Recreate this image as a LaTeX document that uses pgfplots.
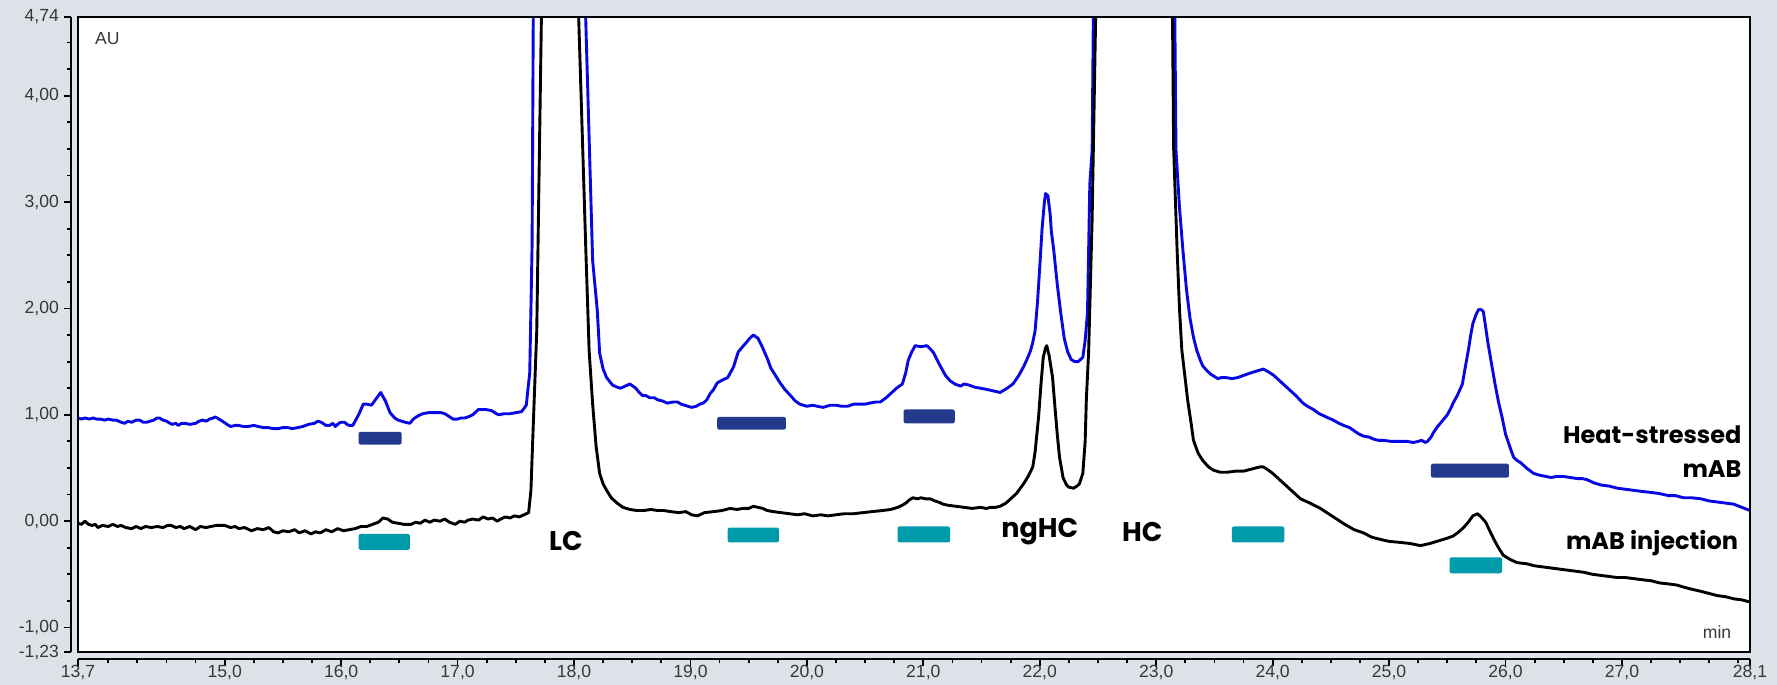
\documentclass[border=0pt]{standalone}
\usepackage{pgfplots}
\pgfplotsset{compat=1.18}
\usepackage{fontspec}
\setmainfont{Liberation Sans}
\newfontfamily\labfont{Poppins}
\definecolor{bgc}{RGB}{220,226,232}
\definecolor{trblue}{RGB}{8,8,228}
\definecolor{barblue}{RGB}{35,58,140}
\definecolor{barteal}{RGB}{0,155,170}
\definecolor{txtgrey}{RGB}{55,55,55}
\pgfplotstableread{
x y
13.74 0.97
13.77 0.96
13.80 0.97
13.84 0.96
13.87 0.97
13.90 0.96
13.93 0.96
13.97 0.95
14.00 0.96
14.04 0.95
14.07 0.95
14.11 0.93
14.14 0.92
14.17 0.94
14.20 0.93
14.24 0.95
14.27 0.95
14.30 0.93
14.33 0.93
14.36 0.94
14.39 0.95
14.42 0.97
14.44 0.97
14.47 0.95
14.50 0.94
14.53 0.92
14.55 0.91
14.58 0.92
14.60 0.90
14.63 0.92
14.66 0.92
14.70 0.91
14.75 0.92
14.78 0.94
14.81 0.95
14.84 0.94
14.87 0.96
14.90 0.97
14.92 0.98
14.95 0.96
14.98 0.94
15.02 0.91
15.05 0.89
15.09 0.90
15.12 0.90
15.16 0.89
15.20 0.89
15.25 0.90
15.29 0.89
15.33 0.88
15.37 0.88
15.42 0.87
15.46 0.87
15.50 0.88
15.54 0.88
15.58 0.87
15.63 0.88
15.67 0.89
15.72 0.91
15.77 0.92
15.80 0.94
15.83 0.93
15.87 0.90
15.90 0.90
15.93 0.92
15.95 0.89
15.98 0.92
16.00 0.93
16.03 0.93
16.05 0.91
16.07 0.90
16.10 0.90
16.13 0.96
16.15 1.00
16.19 1.10
16.22 1.10
16.26 1.09
16.30 1.15
16.34 1.21
16.38 1.13
16.42 1.02
16.46 0.97
16.49 0.95
16.52 0.94
16.55 0.93
16.59 0.92
16.62 0.96
16.66 0.99
16.70 1.01
16.75 1.02
16.80 1.02
16.86 1.02
16.89 1.01
16.92 0.99
16.96 0.96
17.00 0.96
17.03 0.97
17.06 0.97
17.09 0.98
17.13 1.00
17.18 1.05
17.21 1.05
17.24 1.05
17.29 1.04
17.32 1.02
17.35 1.00
17.40 1.01
17.45 1.01
17.50 1.02
17.55 1.03
17.59 1.09
17.62 1.40
17.64 2.60
17.65 4.74
17.88 6.50
18.10 4.74
18.16 2.45
18.20 1.98
18.22 1.58
18.25 1.43
18.28 1.35
18.33 1.28
18.37 1.26
18.40 1.25
18.44 1.27
18.48 1.29
18.53 1.25
18.56 1.21
18.59 1.18
18.62 1.18
18.65 1.16
18.69 1.16
18.72 1.14
18.76 1.13
18.80 1.11
18.85 1.12
18.89 1.12
18.92 1.10
18.95 1.09
19.01 1.07
19.05 1.08
19.08 1.10
19.11 1.11
19.14 1.14
19.17 1.20
19.20 1.24
19.23 1.30
19.28 1.33
19.32 1.35
19.37 1.45
19.41 1.59
19.44 1.63
19.48 1.68
19.51 1.72
19.54 1.75
19.58 1.72
19.62 1.63
19.66 1.53
19.69 1.44
19.73 1.37
19.77 1.30
19.81 1.24
19.86 1.18
19.90 1.13
19.94 1.10
20.00 1.08
20.05 1.09
20.09 1.08
20.14 1.07
20.20 1.09
20.25 1.09
20.30 1.08
20.35 1.08
20.40 1.10
20.45 1.10
20.50 1.10
20.54 1.11
20.59 1.12
20.63 1.12
20.68 1.16
20.72 1.20
20.77 1.25
20.82 1.29
20.85 1.40
20.87 1.51
20.90 1.59
20.93 1.65
20.98 1.64
21.03 1.65
21.06 1.62
21.09 1.58
21.14 1.47
21.19 1.37
21.23 1.32
21.27 1.29
21.32 1.27
21.35 1.29
21.39 1.28
21.44 1.26
21.49 1.25
21.54 1.24
21.58 1.23
21.62 1.22
21.66 1.21
21.72 1.25
21.77 1.29
21.82 1.37
21.86 1.45
21.89 1.52
21.92 1.60
21.94 1.68
21.96 1.79
21.98 2.05
22.00 2.39
22.02 2.75
22.04 3.00
22.05 3.08
22.07 3.06
22.09 2.88
22.10 2.72
22.12 2.55
22.15 2.23
22.18 1.96
22.21 1.72
22.24 1.59
22.27 1.52
22.30 1.50
22.33 1.50
22.35 1.52
22.37 1.54
22.39 1.70
22.41 1.96
22.43 3.17
22.45 3.49
22.46 4.74
22.80 6.50
23.16 4.74
23.17 3.49
23.20 2.95
23.23 2.54
23.26 2.18
23.29 1.91
23.32 1.73
23.35 1.60
23.38 1.51
23.40 1.46
23.44 1.41
23.47 1.38
23.53 1.34
23.56 1.35
23.60 1.35
23.65 1.34
23.70 1.35
23.75 1.37
23.80 1.39
23.86 1.41
23.92 1.43
23.97 1.40
24.01 1.37
24.07 1.31
24.13 1.25
24.20 1.18
24.26 1.11
24.30 1.08
24.35 1.05
24.40 1.01
24.44 0.99
24.48 0.97
24.52 0.95
24.57 0.92
24.61 0.90
24.66 0.88
24.70 0.85
24.74 0.82
24.78 0.80
24.83 0.79
24.87 0.77
24.91 0.76
24.95 0.76
25.02 0.75
25.08 0.75
25.15 0.75
25.21 0.74
25.25 0.75
25.28 0.76
25.31 0.74
25.33 0.75
25.36 0.79
25.38 0.83
25.41 0.88
25.44 0.92
25.47 0.96
25.50 1.00
25.53 1.06
25.55 1.11
25.59 1.19
25.63 1.29
25.65 1.42
25.68 1.60
25.70 1.74
25.72 1.86
25.75 1.95
25.77 1.99
25.79 1.99
25.81 1.97
25.83 1.82
25.85 1.67
25.88 1.48
25.91 1.29
25.94 1.12
25.97 0.98
26.00 0.82
26.04 0.69
26.07 0.60
26.10 0.57
26.13 0.55
26.18 0.50
26.24 0.45
26.30 0.43
26.35 0.42
26.39 0.41
26.44 0.42
26.50 0.42
26.56 0.41
26.62 0.40
26.66 0.40
26.70 0.39
26.76 0.36
26.82 0.34
26.89 0.33
26.96 0.31
27.03 0.30
27.10 0.29
27.17 0.28
27.25 0.27
27.32 0.26
27.40 0.24
27.46 0.24
27.53 0.22
27.60 0.22
27.68 0.21
27.75 0.19
27.82 0.18
27.89 0.17
27.96 0.16
28.03 0.13
28.10 0.10
}\heatstressed
\pgfplotstableread{
x y
13.74 -0.02
13.77 -0.03
13.80 0.00
13.83 -0.03
13.86 -0.04
13.89 -0.03
13.91 -0.06
13.95 -0.04
14.00 -0.05
14.04 -0.03
14.08 -0.05
14.11 -0.04
14.15 -0.06
14.20 -0.07
14.24 -0.05
14.28 -0.07
14.32 -0.05
14.37 -0.06
14.42 -0.05
14.47 -0.06
14.51 -0.04
14.54 -0.04
14.58 -0.06
14.62 -0.05
14.65 -0.07
14.70 -0.05
14.75 -0.08
14.79 -0.05
14.84 -0.06
14.88 -0.05
14.93 -0.04
15.00 -0.04
15.05 -0.06
15.09 -0.05
15.12 -0.07
15.17 -0.06
15.23 -0.09
15.28 -0.07
15.33 -0.08
15.38 -0.06
15.42 -0.10
15.46 -0.11
15.50 -0.09
15.55 -0.10
15.60 -0.08
15.64 -0.11
15.69 -0.09
15.74 -0.12
15.78 -0.10
15.82 -0.11
15.87 -0.08
15.92 -0.10
15.97 -0.07
16.02 -0.09
16.07 -0.08
16.12 -0.07
16.17 -0.05
16.22 -0.05
16.27 -0.03
16.32 -0.01
16.36 0.03
16.40 0.02
16.44 -0.01
16.49 -0.02
16.54 -0.03
16.60 -0.03
16.64 -0.01
16.68 -0.02
16.72 0.01
16.76 -0.01
16.80 0.01
16.85 0.00
16.89 0.02
16.93 -0.01
16.98 -0.03
17.02 0.00
17.06 -0.01
17.09 0.01
17.13 0.02
17.18 0.01
17.22 0.04
17.26 0.02
17.30 0.03
17.34 0.00
17.37 0.02
17.41 0.04
17.45 0.03
17.49 0.05
17.53 0.04
17.57 0.06
17.61 0.08
17.63 0.29
17.64 0.60
17.66 1.20
17.68 1.79
17.72 4.74
17.88 6.50
18.04 4.74
18.10 2.60
18.13 1.60
18.16 1.10
18.19 0.70
18.22 0.45
18.25 0.35
18.28 0.29
18.32 0.22
18.37 0.17
18.42 0.13
18.48 0.11
18.54 0.10
18.60 0.10
18.66 0.11
18.72 0.10
18.77 0.10
18.83 0.09
18.90 0.08
18.96 0.09
19.01 0.06
19.06 0.05
19.12 0.08
19.20 0.09
19.27 0.10
19.34 0.12
19.40 0.11
19.45 0.12
19.50 0.12
19.54 0.14
19.58 0.13
19.62 0.12
19.66 0.10
19.71 0.09
19.78 0.08
19.85 0.07
19.92 0.06
19.98 0.07
20.05 0.05
20.12 0.06
20.18 0.05
20.25 0.06
20.32 0.07
20.40 0.07
20.48 0.08
20.56 0.09
20.65 0.10
20.72 0.11
20.78 0.13
20.82 0.15
20.85 0.17
20.88 0.20
20.91 0.22
20.95 0.21
20.98 0.22
21.02 0.21
21.06 0.21
21.10 0.19
21.13 0.18
21.17 0.16
21.21 0.15
21.28 0.14
21.35 0.13
21.42 0.12
21.49 0.13
21.54 0.12
21.58 0.13
21.62 0.13
21.66 0.14
21.71 0.17
21.75 0.21
21.80 0.26
21.86 0.35
21.90 0.42
21.94 0.51
21.96 0.65
21.99 0.98
22.01 1.28
22.03 1.54
22.05 1.63
22.06 1.65
22.08 1.56
22.11 1.35
22.13 1.08
22.15 0.82
22.17 0.60
22.20 0.41
22.23 0.34
22.25 0.32
22.29 0.31
22.32 0.33
22.34 0.35
22.37 0.45
22.39 0.75
22.40 1.14
22.42 1.60
22.45 2.85
22.48 4.74
22.80 6.50
23.14 4.74
23.15 3.50
23.18 2.54
23.20 2.00
23.22 1.61
23.25 1.33
23.27 1.14
23.30 0.92
23.32 0.76
23.36 0.64
23.40 0.57
23.45 0.51
23.49 0.48
23.55 0.46
23.61 0.46
23.68 0.47
23.75 0.47
23.82 0.49
23.89 0.51
23.92 0.51
23.95 0.49
24.00 0.45
24.04 0.41
24.09 0.36
24.13 0.32
24.18 0.27
24.24 0.21
24.32 0.17
24.41 0.12
24.48 0.07
24.55 0.02
24.62 -0.03
24.70 -0.08
24.78 -0.11
24.85 -0.15
24.92 -0.17
25.00 -0.19
25.10 -0.20
25.18 -0.21
25.27 -0.23
25.35 -0.21
25.44 -0.18
25.50 -0.16
25.55 -0.14
25.60 -0.10
25.64 -0.06
25.68 -0.01
25.72 0.05
25.76 0.07
25.79 0.04
25.83 -0.01
25.86 -0.08
25.90 -0.17
25.94 -0.25
25.98 -0.32
26.04 -0.36
26.10 -0.39
26.18 -0.40
26.25 -0.42
26.32 -0.43
26.39 -0.44
26.46 -0.45
26.53 -0.46
26.60 -0.47
26.67 -0.48
26.75 -0.50
26.82 -0.51
26.89 -0.52
26.96 -0.53
27.03 -0.53
27.10 -0.54
27.17 -0.55
27.25 -0.56
27.32 -0.58
27.40 -0.59
27.47 -0.60
27.53 -0.62
27.60 -0.64
27.68 -0.66
27.75 -0.68
27.82 -0.70
27.89 -0.71
27.96 -0.73
28.03 -0.74
28.10 -0.76
}\injection
\begin{document}
\begin{tikzpicture}
\fill[bgc] (-39pt,-16.5pt) rectangle (849.5pt,326pt);
\begin{axis}[
  name=ax, at={(0,0)}, anchor=south west,
  scale only axis, width=836pt, height=317.5pt,
  xmin=13.74, xmax=28.1, ymin=-1.23, ymax=4.74,
  axis x line*=bottom, axis y line*=left,
  axis background/.style={fill=white},
  x axis line style={-, line width=1pt, yshift=-3.5pt},
  y axis line style={-, line width=1pt, xshift=-3.5pt},
  tick align=outside,
  major tick length=3.5pt, minor tick length=2pt,
  every tick/.style={black, line width=0.9pt},
  xtick style={yshift=-3.5pt},
  ytick style={xshift=-3.5pt},
  xtick={13.74,15,16,17,18,19,20,21,22,23,24,25,26,27,28.1},
  xticklabels={{13,7},{15,0},{16,0},{17,0},{18,0},{19,0},{20,0},{21,0},{22,0},{23,0},{24,0},{25,0},{26,0},{27,0},{28,1}},
  minor xtick={14,14.25,...,28},
  ytick={-1.23,-1,0,1,2,3,4,4.74},
  yticklabels={{-1,23},{-1,00},{0,00},{1,00},{2,00},{3,00},{4,00},{4,74}},
  minor ytick={-0.75,-0.5,...,4.5},
  ticklabel style={font=\fontsize{8.8}{10}\selectfont, text=txtgrey},
  xticklabel style={yshift=0.2pt},
  yticklabel style={xshift=-2.5pt},
]
\fill[barblue, rounded corners=1pt] (axis cs:16.15,0.72) rectangle (axis cs:16.52,0.84);
\fill[barblue, rounded corners=1pt] (axis cs:19.23,0.86) rectangle (axis cs:19.82,0.98);
\fill[barblue, rounded corners=1pt] (axis cs:20.83,0.92) rectangle (axis cs:21.27,1.05);
\fill[barblue, rounded corners=1pt] (axis cs:25.36,0.41) rectangle (axis cs:26.03,0.54);
\fill[barteal, rounded corners=1pt] (axis cs:16.15,-0.27) rectangle (axis cs:16.59,-0.12);
\fill[barteal, rounded corners=1pt] (axis cs:19.32,-0.20) rectangle (axis cs:19.76,-0.06);
\fill[barteal, rounded corners=1pt] (axis cs:20.78,-0.20) rectangle (axis cs:21.23,-0.05);
\fill[barteal, rounded corners=1pt] (axis cs:23.65,-0.20) rectangle (axis cs:24.10,-0.05);
\fill[barteal, rounded corners=1pt] (axis cs:25.52,-0.49) rectangle (axis cs:25.97,-0.34);
\addplot[trblue, line width=1.45pt, line join=round] table[x=x,y=y] {\heatstressed};
\addplot[black, line width=1.45pt, line join=round] table[x=x,y=y] {\injection};
\node[anchor=north west, text=txtgrey, font=\fontsize{8.8}{10}\selectfont] at (rel axis cs:0.006,0.987) {AU};
\node[anchor=base east, text=txtgrey, font=\fontsize{8.8}{10}\selectfont] at (rel axis cs:0.993,0.022) {min};
\node[anchor=base, font=\labfont\bfseries\fontsize{13.5}{15}\selectfont] at (axis cs:17.93,-0.28) {LC};
\node[anchor=base, font=\labfont\bfseries\fontsize{13.5}{15}\selectfont] at (axis cs:22.00,-0.15) {ngHC};
\node[anchor=base, font=\labfont\bfseries\fontsize{13.5}{15}\selectfont] at (axis cs:22.88,-0.19) {HC};
\node[anchor=base east, font=\labfont\bfseries\fontsize{12}{14}\selectfont, inner sep=0pt] at (axis cs:28.03,0.73) {Heat-stressed};
\node[anchor=base east, font=\labfont\bfseries\fontsize{12}{14}\selectfont, inner sep=0pt] at (axis cs:28.03,0.41) {mAB};
\node[anchor=base east, font=\labfont\bfseries\fontsize{12}{14}\selectfont, inner sep=0pt] at (axis cs:28.00,-0.27) {mAB injection};
\end{axis}
\draw[line width=1.2pt] (ax.south west) rectangle (ax.north east);
\pgfresetboundingbox
\useasboundingbox (-39pt,-16.5pt) rectangle (849.5pt,326pt);
\end{tikzpicture}
\end{document}
